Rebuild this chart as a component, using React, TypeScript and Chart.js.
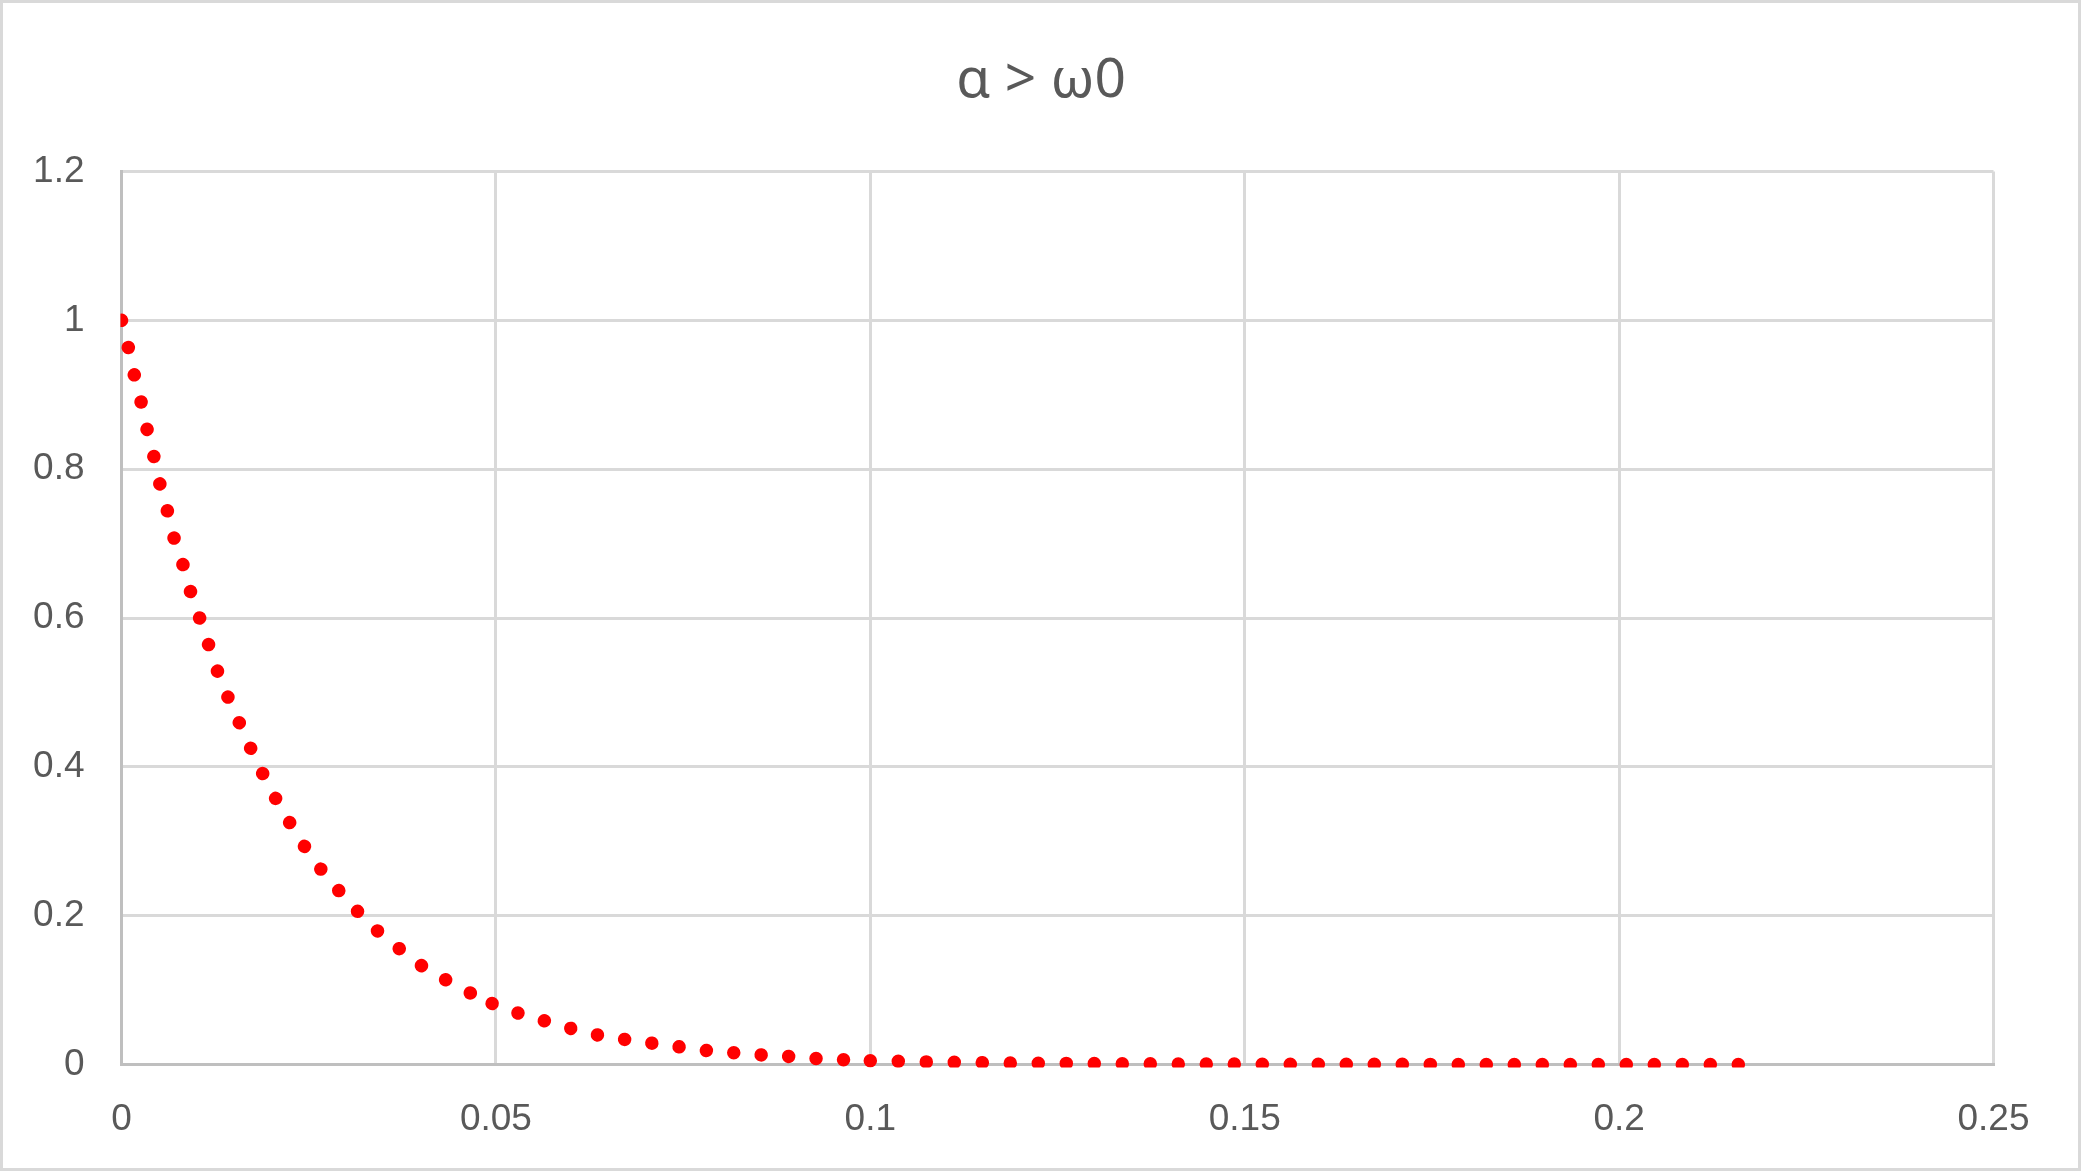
import React, { useEffect, useRef } from 'react';
import { Chart, registerables } from 'chart.js';

Chart.register(...registerables);

const titleText = 'α > ω0';

const xValues = [
  0, 0.0009, 0.0017, 0.0026, 0.0034, 0.0043, 0.0051, 0.0061, 0.007, 0.0082,
  0.0092, 0.0104, 0.0116, 0.0128, 0.0142, 0.0157, 0.0172, 0.0188, 0.0205, 0.0224,
  0.0243, 0.0265, 0.0289, 0.0314, 0.034, 0.0368, 0.0397, 0.0429, 0.0462, 0.0495,
  0.053, 0.0564, 0.0598, 0.0634, 0.067, 0.0706, 0.0743, 0.0779, 0.0815, 0.0852,
  0.0889, 0.0926, 0.0963, 0.1, 0.11, 0.12, 0.13, 0.14, 0.15, 0.16,
  0.18, 0.2, 0.2165,
];

const yValues = [
  1.0, 0.964, 0.927, 0.891, 0.854, 0.818, 0.781, 0.745, 0.708, 0.672,
  0.636, 0.601, 0.565, 0.529, 0.494, 0.46, 0.426, 0.392, 0.359, 0.326,
  0.295, 0.264, 0.235, 0.207, 0.181, 0.158, 0.135, 0.116, 0.098, 0.082,
  0.069, 0.059, 0.049, 0.04, 0.034, 0.029, 0.024, 0.019, 0.016, 0.013,
  0.011, 0.008, 0.0065, 0.005, 0.003, 0.002, 0.0012, 0.0008, 0.0005, 0.0003,
  0.0001, 0.00004, 0.00002,
];

const xTickLabels = ['0', '0.05', '0.1', '0.15', '0.2', '0.25'];
const yTickLabels = ['0', '0.2', '0.4', '0.6', '0.8', '1', '1.2'];

export default function App() {
  const ref = useRef<HTMLCanvasElement>(null);

  useEffect(() => {
    const canvas = ref.current;
    if (!canvas) return;

    const framePlugin = {
      id: 'frame',
      beforeDraw(chart: any) {
        const ctx = chart.ctx;
        ctx.save();
        ctx.fillStyle = '#ffffff';
        ctx.fillRect(0, 0, chart.width, chart.height);
        ctx.strokeStyle = '#d9d9d9';
        ctx.lineWidth = 3;
        ctx.strokeRect(1.5, 1.5, chart.width - 4, chart.height - 4);
        ctx.restore();
      },
      afterDraw(chart: any) {
        const ctx = chart.ctx;
        ctx.save();
        ctx.fillStyle = '#595959';
        ctx.font = '55px "Noto Sans", sans-serif';
        ctx.textAlign = 'center';
        ctx.textBaseline = 'alphabetic';
        ctx.fillText(titleText, chart.width / 2, 97);
        ctx.restore();
      },
    };

    const data = xValues.map((x, i) => ({ x, y: yValues[i] }));
    const tickFont = { family: '"Liberation Sans", Arial, sans-serif', size: 37 };

    const chart = new Chart(canvas, {
      type: 'scatter',
      data: {
        datasets: [
          {
            data,
            showLine: true,
            pointRadius: 0,
            borderColor: '#ff0000',
            borderWidth: 13.5,
            borderDash: [0.001, 28],
            borderCapStyle: 'round',
            borderJoinStyle: 'round',
            tension: 0,
            clip: { left: 1, top: 10, right: 10, bottom: 3 },
            segment: {
              borderDash: (ctx: any) => {
                const x0 = ctx.p0.parsed.x;
                if (x0 < 0.0495 - 1e-9) return [0.001, 28];
                if (x0 < 0.1 - 1e-9) return [0.001, 27.5];
                return [0.0011, 28];
              },
            },
          } as any,
        ],
      },
      options: {
        responsive: false,
        animation: false,
        devicePixelRatio: 1,
        layout: { padding: { left: 0, right: 88.5, top: 171.5, bottom: 0 } },
        plugins: {
          legend: { display: false },
          tooltip: { enabled: false },
          title: { display: false },
        },
        scales: {
          x: {
            type: 'linear',
            min: 0,
            max: 0.25,
            afterFit(s: any) {
              s.height = 107.5;
            },
            ticks: {
              stepSize: 0.05,
              padding: 33,
              color: '#595959',
              font: tickFont,
              maxRotation: 0,
              autoSkip: false,
              callback: (_v: any, i: number) => xTickLabels[i],
            },
            grid: { color: '#d9d9d9', lineWidth: 3, drawTicks: false },
            border: { color: '#bfbfbf', width: 3 },
          },
          y: {
            type: 'linear',
            min: 0,
            max: 1.2,
            afterFit(s: any) {
              s.width = 121.5;
            },
            ticks: {
              stepSize: 0.2,
              padding: 37,
              color: '#595959',
              font: tickFont,
              autoSkip: false,
              callback: (_v: any, i: number) => yTickLabels[i],
            },
            grid: { color: '#d9d9d9', lineWidth: 3, drawTicks: false },
            border: { color: '#bfbfbf', width: 3 },
          },
        },
      } as any,
      plugins: [framePlugin],
    });

    return () => chart.destroy();
  }, []);

  return (
    <div style={{ position: 'fixed', left: 0, top: 0, width: 2082, height: 1172 }}>
      <canvas ref={ref} width={2082} height={1172} style={{ display: 'block', width: 2082, height: 1172 }} />
    </div>
  );
}
